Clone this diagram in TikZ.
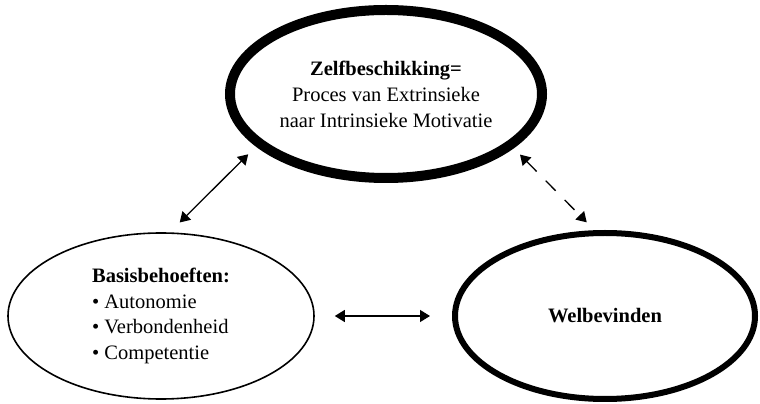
\documentclass[tikz,border=0pt]{standalone}
\usepackage{fontspec}
\setmainfont{Liberation Serif}
\usepackage{tikz}
\usetikzlibrary{
  arrows.meta,
  shapes.geometric
}
\tikzset{
  selfbox/.style={draw, ellipse, line width=10pt,
    minimum width=312pt, minimum height=168pt, inner sep=0pt,
    align=center, font=\fontsize{20.5}{26}\selectfont},
  needbox/.style={draw, ellipse, line width=1.6pt,
    minimum width=306pt, minimum height=166pt, inner sep=0pt,
    align=left, font=\fontsize{20.5}{25.5}\selectfont},
  wellbox/.style={draw, ellipse, line width=6pt,
    minimum width=300pt, minimum height=166pt, inner sep=0pt,
    align=center, font=\fontsize{20.5}{26}\selectfont},
  arr/.style={{Triangle[length=10pt, width=12pt]}-{Triangle[length=10pt, width=12pt]},
    line width=1.3pt},
  darr/.style={arr, dash pattern=on 14pt off 13pt},
}

\begin{document}
\begin{tikzpicture}[x=1pt, y=1pt]
  \useasboundingbox (0,0) rectangle (760,404);

  % Zelfbeschikking
  \node[selfbox] (zelf) at (386,310) {
    \textbf{Zelfbeschikking=}\\
    Proces van Extrinsieke\\
    naar Intrinsieke Motivatie
  };
  % Basisbehoeften
  \node[needbox] (basis) at (161,88) {
    \textbf{Basisbehoeften:}\\
    \textbullet{} Autonomie\\
    \textbullet{} Verbondenheid\\
    \textbullet{} Competentie
  };
  % Welbevinden
  \node[wellbox] (welbev) at (605,88) {\textbf{Welbevinden}};

  % Arrows
  \draw[arr, shorten <=14pt, shorten >=11pt] (basis.84) -- (zelf.202);
  \draw[arr, shorten <=20pt, shorten >=22pt] (basis.east) -- (welbev.west);
  \draw[darr, shorten <=9pt, shorten >=11pt] (zelf.337) -- (welbev.97);
\end{tikzpicture}
\end{document}
